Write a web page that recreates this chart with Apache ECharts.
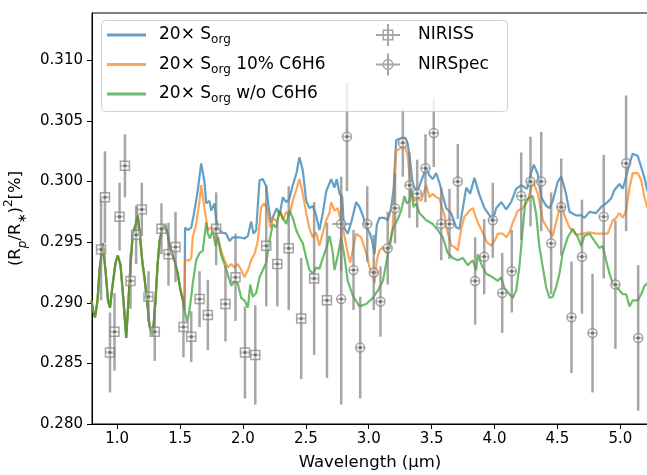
<!DOCTYPE html>
<html><head><meta charset="utf-8">
<script src="https://cdn.jsdelivr.net/npm/echarts@6/dist/echarts.min.js"></script>
<style>html,body{margin:0;padding:0;background:#fff}#c{width:647px;height:475px}</style>
</head><body><div id="c"></div>
<script>
// ---- tick labels ----
const xTicks = [1.0, 1.5, 2.0, 2.5, 3.0, 3.5, 4.0, 4.5, 5.0];
const yTicks = [0.280, 0.285, 0.290, 0.295, 0.300, 0.305, 0.310];
const seriesNames = ['20× Sorg', '20× Sorg 10% C6H6', '20× Sorg w/o C6H6', 'NIRISS', 'NIRSpec'];

// ---- model spectra: shared short-wavelength part (all three models coincide) ----
const commonWl = [0.796,0.808,0.824,0.844,0.860,0.886,0.907,0.927,0.943,0.963,0.987,1.005,1.027,1.050,1.072,1.090,1.106,1.124,1.146,1.164,1.185,1.201,1.217,1.241,1.257,1.283,1.305,1.321,1.337,1.352,1.376,1.400,1.416,1.440,1.456,1.480,1.504,1.523,1.535];
const commonVal = [0.2902,0.2894,0.2888,0.2902,0.2927,0.2949,0.2927,0.2902,0.2896,0.2914,0.2933,0.2939,0.2931,0.2902,0.2871,0.2902,0.2931,0.2957,0.2964,0.2972,0.2951,0.2933,0.2921,0.2898,0.2881,0.2873,0.2902,0.2931,0.2951,0.2958,0.2964,0.2958,0.2947,0.2939,0.2935,0.2925,0.2910,0.2902,0.2894];

// 20x Sorg
const blueWl = [1.540,1.561,1.589,1.615,1.641,1.668,1.694,1.708,1.734,1.748,1.774,1.787,1.800,1.827,1.867,1.893,1.919,1.946,1.973,2.012,2.039,2.065,2.084,2.105,2.132,2.158,2.185,2.203,2.224,2.251,2.269,2.291,2.317,2.344,2.370,2.396,2.426,2.449,2.476,2.503,2.529,2.555,2.582,2.608,2.635,2.662,2.701,2.728,2.746,2.767,2.789,2.803,2.833,2.860,2.900,2.926,2.953,2.980,3.006,3.027,3.046,3.064,3.085,3.125,3.151,3.178,3.197,3.218,3.258,3.292,3.310,3.329,3.350,3.377,3.398,3.430,3.457,3.483,3.509,3.536,3.562,3.589,3.616,3.655,3.695,3.721,3.748,3.775,3.806,3.840,3.880,3.920,3.960,3.986,4.013,4.053,4.093,4.132,4.172,4.212,4.259,4.291,4.312,4.344,4.371,4.410,4.437,4.463,4.503,4.530,4.564,4.596,4.649,4.689,4.715,4.755,4.808,4.848,4.887,4.927,4.953,4.993,5.019,5.046,5.073,5.099,5.139,5.166,5.192,5.216];
const blueVal = [0.2962,0.2960,0.2962,0.2976,0.2993,0.3015,0.3000,0.2982,0.2984,0.2976,0.2982,0.2969,0.2962,0.2958,0.2957,0.2951,0.2954,0.2954,0.2954,0.2953,0.2955,0.2967,0.2957,0.2960,0.3001,0.3002,0.2996,0.2980,0.2966,0.2974,0.2978,0.2972,0.2987,0.2983,0.2986,0.2997,0.3007,0.3020,0.3009,0.2984,0.2978,0.2980,0.2972,0.2960,0.2974,0.2992,0.3002,0.2995,0.3002,0.2990,0.2987,0.2962,0.2957,0.2966,0.2983,0.2979,0.2972,0.2962,0.2958,0.2951,0.2940,0.2964,0.2970,0.2970,0.2968,0.2978,0.2993,0.3034,0.3036,0.3036,0.3031,0.3017,0.2997,0.2993,0.2995,0.3004,0.3011,0.3005,0.3002,0.3007,0.2999,0.2988,0.2978,0.2974,0.2962,0.2961,0.2978,0.2995,0.2990,0.3003,0.2989,0.2978,0.2972,0.2968,0.2978,0.2983,0.2977,0.2983,0.2994,0.2997,0.2994,0.3007,0.3014,0.3006,0.2987,0.2980,0.2978,0.2984,0.3000,0.3004,0.2992,0.2975,0.2972,0.2972,0.2970,0.2975,0.2974,0.2979,0.2982,0.2986,0.2993,0.2998,0.2994,0.3004,0.3015,0.3023,0.3021,0.3012,0.3003,0.2992];

// 20x Sorg 10% C6H6
const orangeWl = [1.540,1.575,1.589,1.601,1.628,1.655,1.668,1.694,1.721,1.748,1.774,1.800,1.827,1.853,1.880,1.907,1.933,1.959,1.986,2.012,2.039,2.065,2.095,2.118,2.145,2.171,2.197,2.217,2.237,2.269,2.296,2.317,2.344,2.370,2.396,2.423,2.449,2.476,2.503,2.529,2.555,2.582,2.608,2.635,2.662,2.688,2.701,2.728,2.754,2.781,2.807,2.833,2.852,2.873,2.900,2.940,2.980,3.006,3.032,3.046,3.064,3.085,3.112,3.139,3.165,3.191,3.218,3.258,3.292,3.310,3.337,3.364,3.390,3.417,3.457,3.483,3.509,3.536,3.562,3.602,3.628,3.658,3.682,3.708,3.735,3.761,3.801,3.827,3.867,3.906,3.940,3.973,4.000,4.026,4.065,4.093,4.119,4.145,4.185,4.225,4.264,4.291,4.310,4.344,4.384,4.423,4.463,4.503,4.530,4.556,4.596,4.649,4.701,4.755,4.808,4.860,4.900,4.940,4.967,4.993,5.019,5.046,5.073,5.099,5.139,5.166,5.192,5.216];
const orangeVal = [0.2935,0.2935,0.2937,0.2954,0.2965,0.2984,0.2997,0.2978,0.2960,0.2962,0.2961,0.2954,0.2943,0.2935,0.2929,0.2932,0.2929,0.2932,0.2927,0.2921,0.2927,0.2935,0.2941,0.2951,0.2979,0.2982,0.2976,0.2962,0.2970,0.2967,0.2976,0.2968,0.2975,0.2972,0.2984,0.2993,0.3002,0.2990,0.2974,0.2961,0.2954,0.2958,0.2947,0.2958,0.2968,0.2974,0.2983,0.2976,0.2978,0.2966,0.2955,0.2941,0.2933,0.2943,0.2957,0.2954,0.2941,0.2929,0.2924,0.2916,0.2935,0.2943,0.2946,0.2941,0.2946,0.2962,0.3025,0.3028,0.3028,0.3021,0.2990,0.2984,0.2987,0.2984,0.2997,0.2987,0.2990,0.2987,0.2986,0.2972,0.2957,0.2947,0.2946,0.2943,0.2961,0.2971,0.2976,0.2978,0.2966,0.2958,0.2950,0.2947,0.2951,0.2957,0.2957,0.2954,0.2958,0.2966,0.2976,0.2978,0.2984,0.2995,0.2999,0.2990,0.2968,0.2961,0.2955,0.2972,0.2984,0.2972,0.2962,0.2956,0.2957,0.2958,0.2957,0.2957,0.2957,0.2968,0.2970,0.2974,0.2970,0.2976,0.2995,0.3007,0.3007,0.3001,0.2987,0.2978];

// 20x Sorg w/o C6H6
const greenWl = [1.557,1.575,1.589,1.601,1.628,1.655,1.681,1.708,1.721,1.738,1.760,1.782,1.800,1.827,1.853,1.880,1.907,1.933,1.959,1.986,2.012,2.039,2.058,2.078,2.105,2.132,2.158,2.185,2.211,2.237,2.264,2.291,2.317,2.344,2.370,2.396,2.423,2.449,2.476,2.503,2.529,2.555,2.582,2.608,2.635,2.662,2.688,2.712,2.728,2.754,2.781,2.807,2.833,2.873,2.926,2.980,3.032,3.072,3.112,3.151,3.191,3.231,3.258,3.284,3.302,3.324,3.337,3.356,3.377,3.403,3.457,3.509,3.549,3.589,3.628,3.668,3.708,3.748,3.787,3.827,3.854,3.867,3.894,3.934,3.986,4.026,4.053,4.079,4.119,4.145,4.172,4.198,4.225,4.246,4.278,4.304,4.331,4.357,4.384,4.410,4.437,4.463,4.490,4.516,4.542,4.582,4.622,4.662,4.689,4.715,4.755,4.794,4.834,4.860,4.887,4.914,4.940,4.980,5.019,5.046,5.073,5.099,5.139,5.166,5.192,5.216];
const greenVal = [0.2884,0.2894,0.2905,0.2916,0.2935,0.2941,0.2943,0.2966,0.2957,0.2953,0.2960,0.2947,0.2954,0.2939,0.2932,0.2923,0.2914,0.2918,0.2916,0.2904,0.2902,0.2896,0.2915,0.2905,0.2908,0.2921,0.2927,0.2933,0.2951,0.2965,0.2962,0.2976,0.2970,0.2965,0.2976,0.2970,0.2960,0.2954,0.2949,0.2937,0.2927,0.2924,0.2929,0.2928,0.2937,0.2945,0.2955,0.2943,0.2927,0.2939,0.2954,0.2938,0.2918,0.2906,0.2897,0.2899,0.2904,0.2910,0.2918,0.2939,0.2961,0.2969,0.2976,0.2988,0.2982,0.2984,0.2994,0.2979,0.2982,0.2974,0.2968,0.2965,0.2960,0.2954,0.2941,0.2937,0.2935,0.2937,0.2931,0.2935,0.2927,0.2940,0.2932,0.2924,0.2921,0.2918,0.2921,0.2912,0.2907,0.2904,0.2910,0.2930,0.2962,0.2984,0.2987,0.2988,0.2973,0.2946,0.2929,0.2913,0.2904,0.2905,0.2913,0.2924,0.2941,0.2954,0.2961,0.2954,0.2947,0.2955,0.2957,0.2951,0.2945,0.2947,0.2935,0.2924,0.2916,0.2912,0.2907,0.2907,0.2897,0.2902,0.2902,0.2907,0.2914,0.2916];

// ---- observations ----
const nirissWl  = [0.872,0.903,0.943,0.979,1.019,1.062,1.106,1.151,1.196,1.249,1.299,1.352,1.408,1.464,1.527,1.589,1.655,1.721,1.787,1.861,1.941,2.016,2.098,2.185,2.273,2.364,2.463,2.566,2.668];
const nirissVal = [0.2944,0.2987,0.2859,0.2876,0.2971,0.3013,0.2918,0.2956,0.2977,0.2905,0.2876,0.2961,0.2940,0.2946,0.2880,0.2872,0.2903,0.2890,0.2961,0.2899,0.2921,0.2859,0.2857,0.2947,0.2932,0.2945,0.2887,0.2920,0.2902];
const nirissErr = [0.0042,0.0038,0.0033,0.0032,0.0028,0.0026,0.0023,0.0024,0.0022,0.0021,0.0024,0.0021,0.0026,0.0029,0.0025,0.0021,0.0023,0.0029,0.0030,0.0031,0.0036,0.0038,0.0041,0.0050,0.0035,0.0051,0.0050,0.0063,0.0064];
const nirissXerr = [0.035,0.035,0.035,0.035,0.035,0.035,0.035,0.035,0.035,0.035,0.035,0.035,0.035,0.035,0.035,0.035,0.035,0.035,0.035,0.035,0.035,0.035,0.035,0.035,0.035,0.035,0.035,0.035,0.035];

const nirspecWl  = [2.781,2.781,2.827,2.879,2.932,2.988,3.040,3.093,3.151,3.209,3.271,3.324,3.385,3.451,3.517,3.576,3.642,3.708,3.846,3.918,3.986,4.061,4.137,4.212,4.286,4.371,4.450,4.530,4.612,4.695,4.779,4.868,4.961,5.046,5.142];
const nirspecVal = [0.2965,0.2903,0.3037,0.2927,0.2863,0.2965,0.2925,0.2901,0.2945,0.2978,0.3032,0.2997,0.2990,0.3011,0.3040,0.2965,0.2965,0.3000,0.2918,0.2938,0.2968,0.2908,0.2926,0.2988,0.3000,0.3000,0.2949,0.2979,0.2888,0.2938,0.2875,0.2971,0.2915,0.3015,0.2871];
const nirspecErr = [0.0039,0.0087,0.0045,0.0033,0.0042,0.0031,0.0031,0.0029,0.0030,0.0029,0.0028,0.0027,0.0028,0.0028,0.0028,0.0030,0.0029,0.0031,0.0036,0.0031,0.0031,0.0033,0.0034,0.0036,0.0037,0.0041,0.0042,0.0040,0.0046,0.0047,0.0049,0.0051,0.0053,0.0056,0.0060];
const nirspecXerr = [0.07,0.035,0.035,0.035,0.035,0.035,0.035,0.035,0.035,0.035,0.035,0.035,0.035,0.035,0.035,0.035,0.035,0.035,0.035,0.035,0.035,0.035,0.035,0.035,0.035,0.035,0.035,0.035,0.035,0.035,0.035,0.035,0.035,0.035,0.035];

// ---- build ----
const FONT = 'DejaVu Sans';
const zip = (a, b) => a.map((v, i) => [v, b[i]]);
const common = zip(commonWl, commonVal);
const errData = (w, v, e, xe) => w.map((x, i) => [x, v[i], e[i], xe[i]]);
const GREY = 'rgba(128,128,128,0.7)';

function errRender(shape) {
  return function (params, api) {
    const x = api.value(0), y = api.value(1), ye = api.value(2), xe = api.value(3);
    const c = api.coord([x, y]);
    const t = api.coord([x, y + ye]), b = api.coord([x, y - ye]);
    const l = api.coord([x - xe, y]), r = api.coord([x + xe, y]);
    const s = 4.5;
    const marker = shape === 'square'
      ? { type: 'rect', shape: { x: c[0] - s, y: c[1] - s, width: 2 * s, height: 2 * s }, style: { fill: 'rgba(255,255,255,0.3)', stroke: GREY, lineWidth: 1.5 } }
      : { type: 'circle', shape: { cx: c[0], cy: c[1], r: s }, style: { fill: 'rgba(255,255,255,0.3)', stroke: GREY, lineWidth: 1.5 } };
    return { type: 'group', children: [
      { type: 'line', shape: { x1: t[0], y1: t[1], x2: b[0], y2: b[1] }, style: { stroke: GREY, lineWidth: 2.5 } },
      { type: 'line', shape: { x1: l[0], y1: l[1], x2: r[0], y2: r[1] }, style: { stroke: GREY, lineWidth: 2 } },
      marker,
      { type: 'circle', shape: { cx: c[0], cy: c[1], r: 1.6 }, style: { fill: 'rgba(80,80,80,0.7)' } }
    ] };
  };
}

const lineIcon = 'path://M0,0H40V3H0Z';
const squareIcon = 'path://M0,10H24V12H0Z M11,0H13V22H11Z M6.5,5.5H17.5V16.5H6.5Z M8,15H16V7H8Z';
const circleIcon = 'path://M0,10H24V12H0Z M11,0H13V22H11Z M17.5,11A5.5,5.5,0,1,1,6.5,11A5.5,5.5,0,1,1,17.5,11Z M16,11A4,4,0,1,0,8,11A4,4,0,1,0,16,11Z';

const lineSeries = (name, wl, val, color, z) => ({
  name, type: 'line', data: common.concat(zip(wl, val)), symbol: 'none', showSymbol: false,
  lineStyle: { color, width: 2.2 }, itemStyle: { color }, z, animation: false, clip: true
});

const chart = echarts.init(document.getElementById('c'), null, { renderer: 'canvas' });
chart.setOption({
  animation: false,
  backgroundColor: '#fff',
  grid: { left: 92, right: -1, top: 13, bottom: 51, outerBoundsMode: 'none', containLabel: false,
    show: true, borderColor: '#000', borderWidth: 1, backgroundColor: 'transparent' },
  xAxis: {
    type: 'value', min: 0.8, max: 5.22,
    axisLine: { lineStyle: { color: '#000', width: 1 } },
    axisTick: { length: 5, lineStyle: { color: '#000' }, customValues: xTicks },
    axisLabel: { customValues: xTicks, formatter: v => v.toFixed(1), fontSize: 15, color: '#000', margin: 8, fontFamily: FONT },
    splitLine: { show: false },
    name: 'Wavelength (µm)', nameLocation: 'middle', nameGap: 30,
    nameTextStyle: { fontSize: 16.5, color: '#000', fontFamily: FONT }
  },
  yAxis: {
    type: 'value', min: 0.28, max: 0.3139,
    axisLine: { lineStyle: { color: '#000', width: 1 } },
    axisTick: { length: 5, lineStyle: { color: '#000' }, customValues: yTicks },
    axisLabel: { customValues: yTicks, formatter: v => v.toFixed(3), fontSize: 15, color: '#000', margin: 9, fontFamily: FONT },
    splitLine: { show: false },
    name: '(R{sub|p}/R{sub2|∗}){sup|2}[%]', nameLocation: 'middle', nameGap: 60, nameRotate: 90,
    nameTextStyle: {
      fontSize: 16.5, color: '#000', fontFamily: FONT, lineHeight: 26,
      rich: {
        sub: { fontSize: 12, fontStyle: 'italic', fontFamily: FONT, color: '#000', verticalAlign: 'bottom', lineHeight: 26 },
        sub2: { fontSize: 12, fontFamily: FONT, color: '#000', verticalAlign: 'bottom', lineHeight: 26 },
        sup: { fontSize: 12, fontFamily: FONT, color: '#000', verticalAlign: 'top', lineHeight: 26 }
      }
    }
  },
  legend: [
    {
      data: seriesNames.slice(0, 3).map(n => ({ name: n, icon: lineIcon })),
      orient: 'vertical', left: 107, top: 24, padding: 0,
      itemWidth: 39, itemHeight: 3, itemGap: 7.5, z: 20, selectedMode: false,
      formatter: n => n.replace('Sorg', 'S{sub|org}'),
      textStyle: {
        fontSize: 17, color: '#000', fontFamily: FONT, lineHeight: 22, padding: [0, 0, 0, 8],
        rich: { sub: { fontSize: 12, fontFamily: FONT, color: '#000', verticalAlign: 'bottom', lineHeight: 22 } }
      }
    },
    {
      data: [{ name: seriesNames[3], icon: squareIcon }, { name: seriesNames[4], icon: circleIcon }],
      orient: 'vertical', left: 376, top: 24, padding: 0,
      itemWidth: 24, itemHeight: 22, itemGap: 7.5, z: 20, selectedMode: false,
      textStyle: { fontSize: 17, color: '#000', fontFamily: FONT, lineHeight: 22, padding: [0, 0, 0, 13] }
    }
  ],
  graphic: [{
    type: 'rect', z: 10, silent: true,
    shape: { x: 101.5, y: 20.5, width: 406, height: 91, r: 4 },
    style: { fill: 'rgba(255,255,255,0.8)', stroke: 'rgba(204,204,204,0.9)', lineWidth: 1 }
  }],
  series: [
    lineSeries(seriesNames[0], blueWl, blueVal, 'rgba(31,119,180,0.7)', 2),
    lineSeries(seriesNames[1], orangeWl, orangeVal, 'rgba(255,127,14,0.7)', 3),
    lineSeries(seriesNames[2], greenWl, greenVal, 'rgba(44,160,44,0.7)', 4),
    { name: seriesNames[3], type: 'custom', renderItem: errRender('square'), clip: true, z: 5,
      itemStyle: { color: GREY }, encode: { x: 0, y: 1 },
      data: errData(nirissWl, nirissVal, nirissErr, nirissXerr) },
    { name: seriesNames[4], type: 'custom', renderItem: errRender('circle'), clip: true, z: 5,
      itemStyle: { color: GREY }, encode: { x: 0, y: 1 },
      data: errData(nirspecWl, nirspecVal, nirspecErr, nirspecXerr) }
  ]
});
</script>
</body></html>
